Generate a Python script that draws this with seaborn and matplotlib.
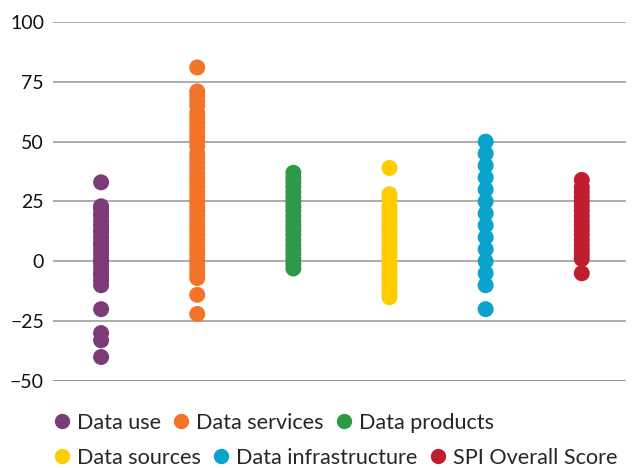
import pandas as pd
import seaborn as sns
import matplotlib.pyplot as plt
from matplotlib.lines import Line2D

categories = ['Data use', 'Data services', 'Data products',
              'Data sources', 'Data infrastructure', 'SPI Overall Score']
colors = ['#7B3A78', '#F37329', '#2E9A48', '#FFCC00', '#08A4CB', '#BE1E2D']

data_use = [33, 23, 22, 20, 19, 17, 15, 13, 12, 10, 8, 7, 5, 3, 1, 0,
            -1, -3, -5, -6, -8, -10, -20, -30, -33, -40]
data_services = [81, 71, 69, 67, 65, 62, 60, 58, 56, 54, 52, 50, 48, 45, 43,
                 41, 39, 37, 35, 33, 31, 29, 27, 25, 23, 21, 19, 17, 15, 13,
                 11, 9, 7, 5, 3, 1, -1, -3, -5, -7, -14, -22]
data_products = [37, 35, 33, 31, 29, 27, 25, 23, 21, 19, 17, 15, 13, 11, 9,
                 7, 5, 3, 1, -1, -3]
data_sources = [39, 28, 26, 23, 21, 19, 17, 15, 13, 11, 9, 7, 5, 3, 1, -1,
                -3, -5, -7, -9, -11, -13, -15]
data_infra = [50, 45, 40, 35, 30, 25, 20, 15, 10, 5, 0, -5, -10, -20]
spi_overall = [34, 31, 29, 27, 25, 23, 21, 19, 17, 15, 13, 11, 9, 7, 5, 3,
               1, -5]

series = [data_use, data_services, data_products, data_sources, data_infra, spi_overall]
df = pd.DataFrame({
    'category': [c for c, vals in zip(categories, series) for _ in vals],
    'value': [v for vals in series for v in vals],
})

sns.set_style('white')
plt.rcParams['font.family'] = ['Lato', 'DejaVu Sans']

fig = plt.figure(figsize=(6.32, 4.68), dpi=100)
ax = fig.add_axes([0.0839, 0.186, 0.9066, 0.767])

sns.stripplot(data=df, x='category', y='value', hue='category', order=categories,
              hue_order=categories, palette=colors, jitter=False, size=11.5,
              linewidth=0, legend=False, ax=ax, zorder=3)

ax.set_ylim(-50, 100)
ax.set_xlim(-0.5, 5.46)
ax.set_yticks([100, 75, 50, 25, 0, -25, -50])
ax.set_xticks([])
ax.set_xlabel('')
ax.set_ylabel('')
for s in ax.spines.values():
    s.set_visible(False)
for t in [100, 75, 50, 25, 0, -25]:
    ax.axhline(t, color='#A6A6A6', lw=1.3, zorder=1)
ax.axhline(-50, color='#8A8A8A', lw=2, zorder=1)
ax.tick_params(axis='y', length=0, pad=6.5, labelsize=14, labelcolor='#111111')

# legend in two rows, each row laid out on its own
handles = [Line2D([], [], marker='o', ls='', color=c, markersize=10) for c in colors]
leg_kw = dict(ncol=3, frameon=False, fontsize=15.6, handletextpad=0.28,
              columnspacing=0.5, handlelength=0.85, borderaxespad=0, borderpad=0)
fig.legend(handles[:3], categories[:3], loc='center left',
           bbox_to_anchor=(0.083, 1 - 423 / 468), **leg_kw)
fig.legend(handles[3:], categories[3:], loc='center left',
           bbox_to_anchor=(0.083, 1 - 458 / 468), **leg_kw)

fig.savefig('out.png', dpi=100)
